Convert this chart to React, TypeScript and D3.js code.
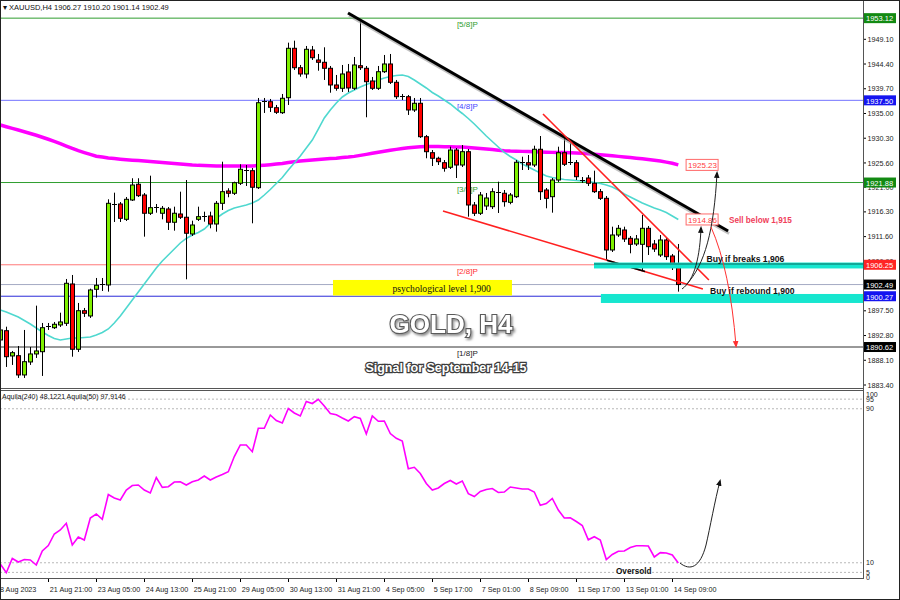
import React, { useEffect } from "react";
import * as d3 from "d3";

// ---------- data ----------
const openP = [1891.96,1893.72,1888.92,1888.97,1885.31,1887.78,1889.30,1889.73,1894.40,1894.29,1894.81,1895.13,1902.60,1890.19,1897.52,1896.52,1901.59,1902.40,1902.41,1917.75,1917.80,1914.89,1918.56,1921.55,1919.51,1916.04,1917.05,1916.04,1916.85,1914.33,1915.90,1915.28,1912.10,1914.89,1915.47,1915.52,1914.00,1917.93,1920.27,1919.84,1921.74,1924.21,1924.13,1920.90,1937.19,1937.24,1936.10,1935.15,1938.00,1947.39,1943.70,1942.51,1947.07,1945.17,1944.73,1943.59,1940.42,1939.79,1942.89,1939.79,1944.08,1943.59,1941.18,1939.79,1942.94,1944.41,1940.93,1938.14,1938.19,1935.67,1936.94,1930.59,1927.55,1926.49,1925.65,1924.78,1928.06,1925.21,1927.74,1917.61,1916.04,1917.42,1917.29,1919.90,1919.84,1918.12,1919.19,1925.68,1925.65,1925.21,1928.20,1920.46,1919.19,1922.36,1927.55,1925.60,1925.65,1922.31,1922.74,1921.74,1920.14,1918.88,1909.06,1911.91,1912.86,1911.28,1910.20,1910.14,1913.18,1910.20,1908.11,1910.96,1907.92,1906.27];
const highP = [1894.43,1894.48,1889.87,1890.81,1893.86,1890.62,1898.48,1895.19,1895.19,1895.38,1897.14,1903.55,1904.31,1898.99,1898.04,1901.71,1903.74,1903.74,1918.69,1919.95,1918.18,1919.13,1922.69,1922.69,1919.89,1923.18,1917.80,1917.42,1917.23,1917.29,1920.14,1922.36,1914.63,1917.29,1916.34,1916.34,1918.37,1925.84,1920.79,1922.04,1925.35,1925.21,1924.64,1937.95,1937.95,1937.76,1936.62,1938.71,1948.46,1948.84,1944.22,1947.83,1947.83,1946.31,1947.58,1944.03,1942.32,1944.22,1944.41,1945.74,1952.39,1944.03,1941.94,1944.03,1946.12,1946.31,1941.37,1938.71,1938.52,1937.95,1937.95,1930.92,1928.06,1926.79,1926.16,1928.69,1928.44,1929.01,1928.25,1918.18,1920.08,1919.89,1920.79,1922.04,1920.46,1919.89,1926.16,1926.79,1927.11,1928.88,1930.72,1920.84,1922.74,1928.69,1930.59,1929.34,1926.16,1922.93,1923.31,1924.13,1920.65,1919.32,1913.49,1913.81,1913.49,1911.72,1911.91,1915.71,1913.62,1910.96,1911.91,1911.53,1908.30,1910.20];
const lowP = [1891.39,1886.83,1887.21,1884.74,1884.74,1887.21,1888.54,1885.12,1893.86,1894.05,1894.43,1894.62,1888.78,1889.68,1896.33,1896.14,1900.00,1901.27,1901.14,1914.38,1914.38,1914.57,1918.37,1919.13,1911.59,1915.71,1916.15,1914.89,1912.86,1912.73,1914.95,1903.49,1911.72,1914.57,1914.44,1913.18,1912.54,1916.66,1919.08,1919.51,1921.41,1921.22,1914.13,1920.65,1935.10,1935.29,1934.91,1934.91,1936.62,1943.27,1941.99,1941.69,1945.17,1943.13,1941.37,1938.95,1939.33,1939.09,1939.09,1939.47,1943.27,1934.28,1939.47,1939.47,1942.70,1940.61,1937.76,1937.57,1934.72,1935.29,1930.35,1926.49,1925.02,1925.21,1923.94,1924.45,1922.74,1924.83,1915.39,1915.52,1915.71,1916.66,1916.85,1916.09,1917.29,1917.75,1918.94,1924.26,1924.26,1924.83,1918.56,1916.98,1916.15,1921.98,1925.02,1925.21,1922.36,1921.79,1921.22,1919.89,1918.56,1907.16,1908.68,1911.53,1910.58,1908.43,1909.82,1905.26,1908.11,1908.68,1907.73,1907.16,1905.26,1901.14];
const closeP = [1893.86,1888.78,1889.54,1885.31,1887.83,1889.30,1889.87,1894.29,1894.55,1894.94,1895.38,1902.73,1890.19,1897.52,1897.03,1901.46,1902.35,1902.50,1917.93,1917.85,1915.08,1918.69,1921.41,1919.38,1916.04,1917.10,1917.15,1916.98,1914.33,1916.04,1915.28,1912.24,1913.81,1915.39,1915.57,1914.00,1917.93,1920.14,1919.84,1921.85,1924.40,1924.31,1920.98,1937.05,1937.29,1936.18,1935.23,1937.89,1947.39,1943.70,1942.51,1947.20,1945.60,1944.73,1943.59,1940.42,1939.79,1942.51,1939.85,1944.22,1943.70,1941.04,1939.79,1942.94,1944.41,1940.93,1938.19,1938.24,1935.67,1936.94,1930.59,1927.74,1926.49,1925.84,1924.59,1928.06,1925.21,1927.74,1917.61,1916.04,1919.51,1918.94,1920.14,1920.00,1918.24,1919.51,1925.73,1925.78,1925.21,1928.20,1920.14,1918.88,1922.36,1927.55,1925.35,1925.70,1922.99,1922.41,1921.74,1920.14,1918.88,1909.06,1911.91,1913.18,1911.15,1910.14,1911.15,1913.18,1909.69,1909.25,1910.96,1907.79,1906.21,1902.49];

const maSlow = [1932.82,1932.49,1932.17,1931.86,1931.54,1931.20,1930.86,1930.48,1930.10,1929.70,1929.28,1928.82,1928.35,1927.93,1927.57,1927.23,1926.89,1926.72,1926.56,1926.43,1926.32,1926.22,1926.13,1926.05,1925.97,1925.88,1925.78,1925.69,1925.59,1925.50,1925.40,1925.31,1925.21,1925.14,1925.10,1925.06,1925.04,1925.02,1925.02,1925.02,1925.02,1925.02,1925.04,1925.10,1925.18,1925.27,1925.38,1925.50,1925.67,1925.82,1925.97,1926.07,1926.16,1926.26,1926.35,1926.43,1926.51,1926.62,1926.72,1926.85,1927.04,1927.23,1927.44,1927.65,1927.84,1928.01,1928.18,1928.35,1928.48,1928.60,1928.67,1928.71,1928.71,1928.71,1928.69,1928.67,1928.65,1928.63,1928.54,1928.44,1928.35,1928.25,1928.14,1928.03,1927.93,1927.87,1927.84,1927.80,1927.76,1927.72,1927.68,1927.65,1927.61,1927.59,1927.57,1927.53,1927.49,1927.44,1927.36,1927.27,1927.17,1927.08,1926.96,1926.85,1926.73,1926.62,1926.51,1926.39,1926.26,1926.11,1925.96,1925.76,1925.54,1925.23];
const maFast = [1897.66,1897.28,1896.80,1896.33,1895.66,1895.00,1894.24,1893.48,1892.81,1892.24,1891.96,1892.15,1892.34,1892.34,1892.43,1892.53,1892.91,1893.38,1894.05,1895.19,1896.52,1898.04,1899.56,1901.08,1902.60,1904.12,1905.64,1906.97,1908.11,1909.25,1910.39,1911.25,1911.91,1912.39,1913.05,1914.10,1915.05,1915.90,1916.57,1917.04,1917.33,1917.61,1917.99,1918.56,1919.51,1920.56,1921.70,1922.84,1924.26,1925.59,1926.92,1928.44,1929.96,1932.05,1934.15,1935.67,1937.00,1938.14,1938.90,1939.47,1940.04,1940.51,1940.89,1941.37,1941.75,1942.03,1942.22,1942.32,1942.03,1941.37,1940.61,1939.85,1938.99,1938.33,1937.57,1936.81,1935.86,1935.00,1934.05,1933.01,1931.86,1930.72,1929.68,1928.63,1927.59,1926.83,1926.16,1925.40,1924.83,1924.26,1923.69,1923.12,1922.84,1922.65,1922.46,1922.36,1922.27,1922.17,1922.08,1921.89,1921.70,1921.41,1921.03,1920.46,1919.70,1919.13,1918.56,1917.99,1917.52,1917.04,1916.66,1916.19,1915.52,1914.86];
const aquila = [9.35,4.83,12.21,10.39,11.69,11.43,8.83,16.10,18.96,24.94,27.01,30.49,19.22,23.38,21.82,33.25,35.32,32.57,45.45,43.64,42.60,47.79,50.13,50.39,47.79,46.23,54.29,49.19,49.51,51.95,52.10,50.39,52.10,52.99,55.06,52.99,54.55,55.84,57.30,65.19,71.17,71.17,67.69,79.84,79.84,86.75,83.90,82.60,90.13,87.79,86.23,93.77,92.73,94.91,91.43,87.53,86.86,85.19,83.64,85.87,84.94,76.88,86.23,83.48,83.64,77.14,74.65,73.25,58.86,59.58,56.36,51.17,47.79,48.83,51.17,52.73,50.91,52.47,45.87,44.42,47.01,48.05,48.57,46.49,46.75,49.35,48.83,48.31,48.31,46.75,39.84,40.78,43.38,37.40,33.25,33.40,31.43,29.35,21.92,23.53,21.82,11.69,14.29,15.95,16.10,17.92,18.86,18.86,18.70,12.99,15.27,15.06,14.03,9.87];

const priceTicks = ["1949.10","1944.40","1939.70","1935.00","1930.30","1925.60","1921.00","1916.30","1911.60","1906.90","1902.20","1897.50","1892.80","1888.10","1883.40"];
const timeLabels = ["18 Aug 2023","21 Aug 21:00","23 Aug 05:00","24 Aug 13:00","25 Aug 21:00","29 Aug 05:00","30 Aug 13:00","31 Aug 21:00","4 Sep 05:00","5 Sep 17:00","7 Sep 01:00","8 Sep 09:00","11 Sep 17:00","13 Sep 01:00","14 Sep 09:00"];
const timeLabelBars = [0,8,16,24,32,40,48,56,64,72,80,88,96,104,112];

const levelNames = ["[5/8]P","[4/8]P","[3/8]P","[2/8]P","[1/8]P"];
const levelPrices = [1953.12,1937.50,1921.88,1906.25,1890.62];
const lastPrice = 1902.49;
const supportPrice = 1900.27;
const indicatorLevels = [95,90,10,5];
const indicatorLabels = [100,95,90,10,5,0];

// annotation anchors in (bar index, price)
const blackTrend = [[57.95,1954.10],[121.3,1912.67]];
const redUpper = [[90.45,1934.91],[118.1,1903.36]];
const redLower = [[73.78,1916.47],[117.1,1901.65]];
const breakBand = [98.95,1906.68,1905.55];
const reboundBand = [100.1,1900.70,1898.99];
const psychBox = [55.45,85.28,1903.36,1900.41];
const arrowA = [[113.62,1901.65],[115.78,1903.36],[116.62,1908.11],[116.78,1913.24]];
const arrowB = [[114.28,1902.41],[117.45,1906.21],[118.95,1912.86],[119.45,1923.69]];
const arrowRed = [[118.45,1913.43],[121.62,1905.26],[122.62,1890.82]];
const arrowInd = [[113.28,9.87],[114.95,5.71],[116.62,7.27],[117.62,19.22],[118.28,28.05],[119.12,42.6],[119.95,52.47]];

const F = "'Liberation Sans', Arial, sans-serif";
const RIGHT = 863;

export default function App() {
  useEffect(() => { document.body.style.margin = "0"; }, []);

  const x = d3.scaleLinear().domain([0, 113]).range([0.3, 678.3]);
  const y = d3.scaleLinear().domain([1883.4, 1949.1]).range([385, 39.3]);
  const yi = d3.scaleLinear().domain([0, 100]).range([582, 389.5]);

  const mainLine = d3.line<number>().x((_, i) => x(i)).y((d) => y(d));
  const indLine = d3.line<number>().x((_, i) => x(i)).y((d) => yi(d));

  const levelColors = ["#2f9e2f", "#7474ff", "#2f9e2f", "#ff7878", "#333333"];
  const levelTextColors = ["#2f9e2f", "#4848ff", "#2f9e2f", "#ff3030", "#222222"];
  const levelBg = ["#128a12", "#1414f0", "#128a12", "#ff2424", "#000000"];

  const px = (p: number[]) => `${x(p[0])},${y(p[1])}`;
  const pathA = `M${px(arrowA[0])} C${px(arrowA[1])} ${px(arrowA[2])} ${px(arrowA[3])}`;
  const pathB = `M${px(arrowB[0])} C${px(arrowB[1])} ${px(arrowB[2])} ${px(arrowB[3])}`;
  const pathR = `M${px(arrowRed[0])} Q${px(arrowRed[1])} ${px(arrowRed[2])}`;
  const pi = (p: number[]) => `${x(p[0])},${yi(p[1])}`;
  const pathI = `M${pi(arrowInd[0])} C${pi(arrowInd[1])} ${pi(arrowInd[2])} ${pi(arrowInd[3])} C${pi(arrowInd[4])} ${pi(arrowInd[5])} ${pi(arrowInd[6])}`;

  const lowerAt = (b: number) => {
    const [a, c] = redLower;
    return a[1] + ((b - a[0]) / (c[0] - a[0])) * (c[1] - a[1]);
  };
  const seg = [101.1, 107.45];

  const priceBox = (price: number, bg: string, key: string) => (
    <g key={key}>
      <rect x={864} y={y(price) - 5} width={32} height={10} fill={bg} />
      <text x={866} y={y(price) + 3.3} fontSize={7.5} fill="#fff" fontFamily={F}>{price.toFixed(2)}</text>
    </g>
  );

  return (
    <svg width={900} height={600} style={{ position: "absolute", left: 0, top: 0, background: "#fff" }}
      xmlns="http://www.w3.org/2000/svg">
      <defs>
        <marker id="ahB" viewBox="0 0 10 10" refX="7" refY="5" markerWidth="7" markerHeight="7" orient="auto">
          <path d="M0,1 L10,5 L0,9 z" fill="#111" />
        </marker>
        <marker id="ahR" viewBox="0 0 10 10" refX="7" refY="5" markerWidth="7" markerHeight="7" orient="auto">
          <path d="M0,1 L10,5 L0,9 z" fill="#ff3030" />
        </marker>
        <filter id="shadow" x="-10%" y="-30%" width="130%" height="180%">
          <feDropShadow dx="1.5" dy="2" stdDeviation="0.8" floodColor="#888" floodOpacity="0.9" />
        </filter>
        <clipPath id="mainClip"><rect x={0} y={0} width={RIGHT} height={388} /></clipPath>
        <clipPath id="indClip"><rect x={0} y={391} width={RIGHT} height={187} /></clipPath>
      </defs>
      <rect x={0} y={0} width={900} height={600} fill="#fff" />

      {/* ---- main panel ---- */}
      <g clipPath="url(#mainClip)">
        {levelPrices.map((p, k) => (
          <line key={"lv" + k} x1={0} x2={RIGHT} y1={y(p)} y2={y(p)} stroke={levelColors[k]} strokeWidth={1} />
        ))}
        <line x1={0} x2={RIGHT} y1={y(lastPrice)} y2={y(lastPrice)} stroke="#a4aac4" strokeWidth={1} />
        <line x1={0} x2={RIGHT} y1={y(supportPrice)} y2={y(supportPrice)} stroke="#2a2ad8" strokeWidth={1} />
        {levelNames.map((n, k) => (
          <text key={"ln" + k} x={x(76.1)} y={y(levelPrices[k]) + 9} fontSize={8} fill={levelTextColors[k]} fontFamily={F}>{n}</text>
        ))}

        <rect x={x(psychBox[0])} y={y(psychBox[2])} width={x(psychBox[1]) - x(psychBox[0])} height={y(psychBox[3]) - y(psychBox[2])} fill="#ffff00" />
        <text x={392.5} y={291.5} fontSize={9.6} fontFamily="'Liberation Serif', 'Times New Roman', serif" fill="#111">psychological level 1,900</text>

        <path d={mainLine(maSlow) || ""} fill="none" stroke="#ff00ff" strokeWidth={3.5} />
        <path d={mainLine(maFast) || ""} fill="none" stroke="#4fd8cf" strokeWidth={1.6} />

        {openP.map((o, i) => {
          const c = closeP[i];
          const cx = Math.round(x(i)) + 0.5;
          const top = y(Math.max(o, c));
          const bot = y(Math.min(o, c));
          const bull = c >= o;
          const doji = bot - top < 1.2;
          return (
            <g key={"c" + i}>
              <line x1={cx} x2={cx} y1={y(highP[i])} y2={y(lowP[i])} stroke="#000" strokeWidth={1} />
              {doji ? (
                <line x1={cx - 2.5} x2={cx + 2.5} y1={Math.round(top) + 0.5} y2={Math.round(top) + 0.5} stroke="#000" strokeWidth={1} />
              ) : (
                <rect x={cx - 2} y={top} width={4} height={bot - top} fill={bull ? "#7ff000" : "#ff0000"} stroke="#000" strokeWidth={1} />
              )}
            </g>
          );
        })}

        <line x1={x(blackTrend[0][0]) + 1} y1={y(blackTrend[0][1]) + 2.5} x2={x(blackTrend[1][0]) + 1} y2={y(blackTrend[1][1]) + 2.5} stroke="#9a9a9a" strokeOpacity={0.6} strokeWidth={3} />
        <line x1={x(blackTrend[0][0])} y1={y(blackTrend[0][1])} x2={x(blackTrend[1][0])} y2={y(blackTrend[1][1])} stroke="#000" strokeWidth={3} />
        <line x1={x(redUpper[0][0])} y1={y(redUpper[0][1])} x2={x(redUpper[1][0])} y2={y(redUpper[1][1])} stroke="#ff2020" strokeWidth={1.6} />
        <line x1={x(redLower[0][0])} y1={y(redLower[0][1])} x2={x(redLower[1][0])} y2={y(redLower[1][1])} stroke="#ff2020" strokeWidth={1.6} />
        <line x1={x(seg[0])} y1={y(lowerAt(seg[0]))} x2={x(seg[1])} y2={y(lowerAt(seg[1]))} stroke="#000" strokeWidth={1.6} />

        <rect x={x(breakBand[0])} y={y(breakBand[1])} width={RIGHT - x(breakBand[0])} height={y(breakBand[2]) - y(breakBand[1])} fill="#16e6cf" />
        <line x1={x(breakBand[0])} x2={RIGHT} y1={y(breakBand[1]) + 1.5} y2={y(breakBand[1]) + 1.5} stroke="#0c6b60" strokeWidth={1} />
        <rect x={x(reboundBand[0])} y={y(reboundBand[1])} width={RIGHT - x(reboundBand[0])} height={y(reboundBand[2]) - y(reboundBand[1])} fill="#16e6cf" />

        {[maSlow[maSlow.length - 1], maFast[maFast.length - 1]].map((v, k) => (
          <g key={"mal" + k}>
            <rect x={x(114.3)} y={y(v) - 5.5} width={32} height={11} fill="#fff" stroke="#ff6a6a" strokeWidth={1} />
            <text x={x(114.3) + 2} y={y(v) + 3.2} fontSize={8} fill="#ff3a3a" fontFamily={F}>{v.toFixed(2)}</text>
          </g>
        ))}

        <path d={pathA} fill="none" stroke="#222" strokeWidth={1} markerEnd="url(#ahB)" />
        <path d={pathB} fill="none" stroke="#222" strokeWidth={1} markerEnd="url(#ahB)" />
        <path d={pathR} fill="none" stroke="#ff3030" strokeWidth={1} markerEnd="url(#ahR)" />

        <text x={729} y={223} fontSize={8.2} fontWeight="bold" fill="#f0405a" fontFamily={F}>Sell below 1,915</text>
        <text x={706.5} y={262} fontSize={8.6} fontWeight="bold" fill="#111" fontFamily={F}>Buy if breaks 1,906</text>
        <text x={710} y={294} fontSize={8.6} fontWeight="bold" fill="#111" fontFamily={F}>Buy if rebound 1,900</text>

        <text x={451} y={333} textAnchor="middle" fontSize={26} fontWeight="bold" fontFamily={F}
          fill="#fff" stroke="#5a5a5a" strokeWidth={2.2} paintOrder="stroke" filter="url(#shadow)">GOLD, H4</text>
        <text x={446} y={372} textAnchor="middle" fontSize={12.5} fontWeight="bold" fontFamily={F}
          fill="#fff" stroke="#3c3c3c" strokeWidth={2.4} paintOrder="stroke">Signal for September 14-15</text>

        <text x={3} y={10} fontSize={7.5} fontFamily={F} fill="#111">▾ XAUUSD,H4  1906.27 1910.20 1901.14 1902.49</text>
      </g>

      {priceTicks.map((t) => (
        <g key={"pt" + t}>
          <line x1={RIGHT} x2={RIGHT + 3} y1={y(+t)} y2={y(+t)} stroke="#000" />
          <text x={RIGHT + 4.5} y={y(+t) + 2.6} fontSize={7.2} fontFamily={F} fill="#222">{t}</text>
        </g>
      ))}
      {levelPrices.map((p, k) => priceBox(p, levelBg[k], "pb" + k))}
      {priceBox(lastPrice, "#000", "pbl")}
      {priceBox(supportPrice, "#1414f0", "pbs")}

      <g clipPath="url(#indClip)">
        {indicatorLevels.map((v) => (
          <line key={"il" + v} x1={0} x2={RIGHT} y1={yi(v)} y2={yi(v)} stroke="#b8b8b8" strokeDasharray="2,2" />
        ))}
        <path d={indLine(aquila) || ""} fill="none" stroke="#ff00ff" strokeWidth={1.6} />
        <path d={pathI} fill="none" stroke="#222" strokeWidth={1} markerEnd="url(#ahB)" />
        <text x={616} y={574} fontSize={8.2} fontWeight="bold" fill="#111" fontFamily={F}>Oversold</text>
        <text x={2} y={399} fontSize={7} fontFamily={F} fill="#111">Aquila(240) 48.1221  Aquila(50) 97.9146</text>
      </g>
      {indicatorLabels.map((v) => (
        <text key={"ilab" + v} x={RIGHT + 3} y={Math.min(Math.max(yi(v), 394), 577) + 2.5} fontSize={7} fontFamily={F} fill="#222">{v}</text>
      ))}

      {timeLabelBars.map((b, k) => (
        <g key={"tl" + k}>
          <line x1={Math.round(x(b)) + 0.5} x2={Math.round(x(b)) + 0.5} y1={578} y2={582} stroke="#000" />
          <text x={k === 0 ? -4 : x(b) + 1.5} y={592} fontSize={7.2} fontFamily={F} fill="#222">{timeLabels[k]}</text>
        </g>
      ))}

      <line x1={0} x2={RIGHT} y1={388.5} y2={388.5} stroke="#555" />
      <line x1={0} x2={RIGHT} y1={390.5} y2={390.5} stroke="#555" />
      <line x1={0} x2={RIGHT} y1={578.5} y2={578.5} stroke="#555" />
      <line x1={RIGHT + 0.5} x2={RIGHT + 0.5} y1={0} y2={579} stroke="#555" />
      <rect x={0.5} y={0.5} width={899} height={599} fill="none" stroke="#222" />
    </svg>
  );
}
